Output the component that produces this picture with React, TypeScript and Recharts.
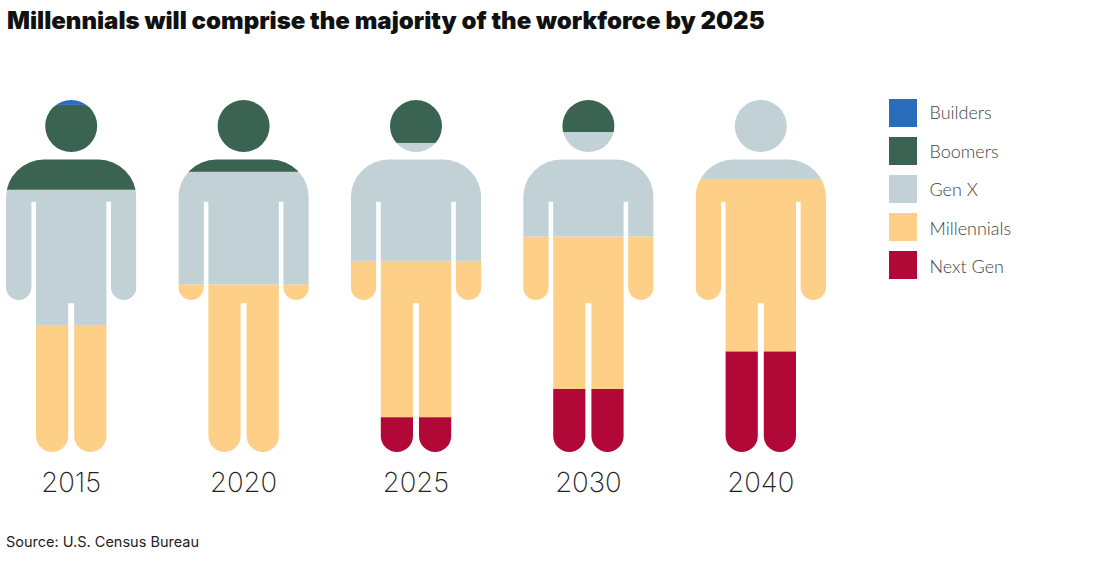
import { Bar, BarChart, XAxis, YAxis } from "recharts";

const years = ["2015", "2020", "2025", "2030", "2040"];
const builders = [1.4, 0, 0, 0, 0];
const boomers = [24.1, 20.4, 12.2, 9.1, 0];
const genX = [38.4, 32, 33.5, 29.7, 22.4];
const millennials = [36.1, 47.6, 44.4, 43.3, 49];
const nextGen = [0, 0, 9.9, 17.9, 28.6];

const generations = ["Builders", "Boomers", "Gen X", "Millennials", "Next Gen"];
const colors = ["#2a6ebb", "#3a6351", "#c2d1d5", "#fed087", "#b20837"];

const data = years.map((year, i) => ({
  year,
  Builders: builders[i],
  Boomers: boomers[i],
  "Gen X": genX[i],
  Millennials: millennials[i],
  "Next Gen": nextGen[i],
}));

const PLOT_TOP = 100;
const LIGHT = "Lato, 'Noto Sans', sans-serif";

/** The figure every stack is cut to, centred on cx. Head first, then the body outline. */
function personPath(cx: number): string {
  const y = (v: number) => PLOT_TOP + v;
  const arc = (r: number, toX: number, toY: number) => `A${r} ${r} 0 0 1 ${toX} ${toY}`;
  const hw = 65.2; // arm outer edge
  const armIn = 39.8;
  const torso = 35.2;
  const gap = 3;
  const shoulder = 38;
  const armBottom = y(200);
  const legBottom = y(352);
  return [
    `M${cx - 26} ${y(26)}`,
    arc(26, cx + 26, y(26)),
    arc(26, cx - 26, y(26)),
    "Z",
    `M${cx - hw + shoulder} ${y(59.6)}`,
    `L${cx + hw - shoulder} ${y(59.6)}`,
    arc(shoulder, cx + hw, y(59.6 + shoulder)),
    `L${cx + hw} ${armBottom - 12.7}`,
    arc(12.7, cx + armIn, armBottom - 12.7),
    `L${cx + armIn} ${y(101.7)}`,
    `L${cx + torso} ${y(101.7)}`,
    `L${cx + torso} ${legBottom - 16.1}`,
    arc(16.1, cx + gap, legBottom - 16.1),
    `L${cx + gap} ${y(203.3)}`,
    `L${cx - gap} ${y(203.3)}`,
    `L${cx - gap} ${legBottom - 16.1}`,
    arc(16.1, cx - torso, legBottom - 16.1),
    `L${cx - torso} ${y(101.7)}`,
    `L${cx - armIn} ${y(101.7)}`,
    `L${cx - armIn} ${armBottom - 12.7}`,
    arc(12.7, cx - hw, armBottom - 12.7),
    `L${cx - hw} ${y(59.6 + shoulder)}`,
    arc(shoulder, cx - hw + shoulder, y(59.6)),
    "Z",
  ].join(" ");
}

function PersonSegment(props: any) {
  const { x, y, width, height, fill, index, dataKey } = props;
  if (!height) return null;
  const id = `person-${String(dataKey).replace(" ", "")}-${index}`;
  return (
    <g>
      <clipPath id={id}>
        <path d={personPath(x + width / 2)} />
      </clipPath>
      <rect x={x} y={y} width={width} height={height} fill={fill} clipPath={`url(#${id})`} />
    </g>
  );
}

export default function App() {
  // stack runs bottom-up, so the youngest generation goes in first
  const stackOrder = [...generations].reverse();

  return (
    <div
      style={{
        position: "absolute",
        left: 0,
        top: 0,
        width: 1100,
        height: 566,
        background: "#fff",
        overflow: "hidden",
        color: "#111",
      }}
    >
      <div
        style={{
          position: "absolute",
          left: 7,
          top: 6,
          fontFamily: "Inter, sans-serif",
          fontWeight: 900,
          fontSize: 24,
          lineHeight: "30px",
          whiteSpace: "nowrap",
        }}
      >
        Millennials will comprise the majority of the workforce by 2025
      </div>

      <BarChart
        width={1100}
        height={520}
        data={data}
        margin={{ top: PLOT_TOP, right: 253, bottom: 0, left: 0 }}
        barSize={130.4}
        style={{ position: "absolute", left: 0, top: 0 }}
      >
        <XAxis
          dataKey="year"
          padding={{ left: -15, right: 0 }}
          axisLine={false}
          tickLine={false}
          tickMargin={14}
          height={68}
          tick={{ fontFamily: "Inter, sans-serif", fontWeight: 200, fontSize: 27.5, fill: "#222" }}
        />
        <YAxis hide domain={[0, 100]} />
        {stackOrder.map((name) => (
          <Bar
            key={name}
            dataKey={name}
            stackId="workforce"
            fill={colors[generations.indexOf(name)]}
            shape={<PersonSegment />}
            isAnimationActive={false}
          />
        ))}
      </BarChart>

      {generations.map((name, i) => (
        <div key={name}>
          <div
            style={{
              position: "absolute",
              left: 889,
              top: 99 + i * 38,
              width: 28,
              height: 28,
              background: colors[i],
            }}
          />
          <div
            style={{
              position: "absolute",
              left: 929.5,
              top: 98 + i * 38.5,
              lineHeight: "28px",
              fontFamily: LIGHT,
              fontWeight: 300,
              fontSize: 18,
              color: "#444",
            }}
          >
            {name}
          </div>
        </div>
      ))}

      <div
        style={{
          position: "absolute",
          left: 6,
          top: 532,
          fontFamily: "Inter, sans-serif",
          fontSize: 14.5,
          lineHeight: "20px",
          color: "#222",
        }}
      >
        Source: U.S. Census Bureau
      </div>
    </div>
  );
}
